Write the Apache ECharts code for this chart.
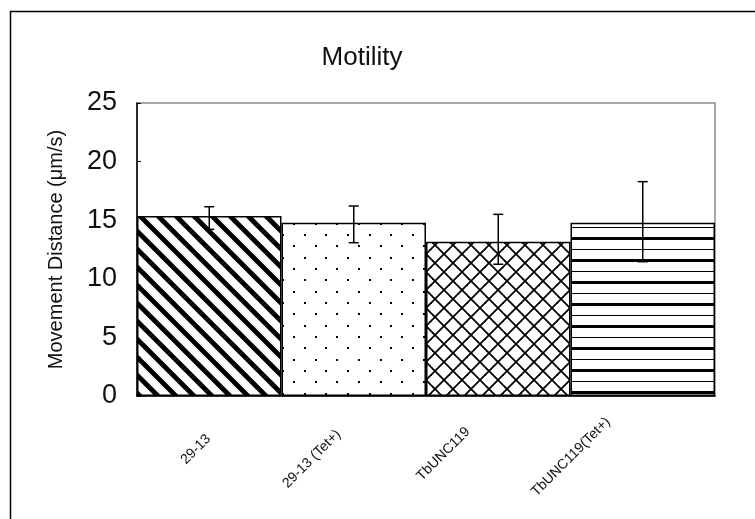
<!DOCTYPE html>
<html>
<head>
<meta charset="utf-8">
<script src="https://cdn.jsdelivr.net/npm/echarts@6/dist/echarts.min.js"></script>
<style>
html,body{margin:0;padding:0;background:#fff;}
#chart{width:755px;height:519px;}
</style>
</head>
<body>
<div id="chart"></div>
<script>
// ---- data ----
const categories = ['29-13', '29-13 (Tet+)', 'TbUNC119', 'TbUNC119(Tet+)'];
const means = [15.36, 14.79, 13.17, 14.79];
const errLow = [14.22, 13.08, 11.24, 11.46];
const errHigh = [16.15, 16.21, 15.50, 18.29];
const yTicks = [0, 5, 10, 15, 20, 25];

// ---- label placement tweaks (layout only) ----
const labelPad = [[0, 1, 0, 0], [0, 8, 27, 0], [0, 17, 52, 0], [0, 13, 72, 0]];

function mk(w, h) {
  const c = document.createElement('canvas');
  c.width = w; c.height = h;
  const g = c.getContext('2d');
  g.fillStyle = '#fff';
  g.fillRect(0, 0, w, h);
  return [c, g];
}
function diagPattern() {
  const [c, g] = mk(18, 18);
  g.strokeStyle = '#000'; g.lineWidth = 4.8;
  for (let o = -36; o <= 36; o += 18) {
    g.beginPath(); g.moveTo(-6, -2 + o); g.lineTo(24, 28 + o); g.stroke();
  }
  return c;
}
function dotPattern() {
  const [c, g] = mk(65, 68);
  g.fillStyle = '#000';
  for (let j = 0; j < 6; j++) {
    const y = 8.3 + j * 11.333;
    const x0 = 1.4 + (j % 2) * 10.833;
    for (let i = -1; i < 4; i++) {
      const x = x0 + i * 21.667;
      g.fillRect(Math.round(x) - 1, Math.round(y) - 1, 2, 2);
    }
  }
  return c;
}
function crossPattern() {
  const [c, g] = mk(18, 18);
  g.strokeStyle = '#000'; g.lineWidth = 1.8;
  for (let o = -36; o <= 36; o += 18) {
    g.beginPath(); g.moveTo(-6, 2 + o); g.lineTo(24, 32 + o); g.stroke();
    g.beginPath(); g.moveTo(-6, 20 + o); g.lineTo(24, -10 + o); g.stroke();
  }
  return c;
}
function hlinePattern() {
  const [c, g] = mk(4, 22);
  g.fillStyle = '#000';
  g.fillRect(0, 17, 4, 3);
  g.fillRect(0, 7, 4, 1);
  return c;
}
const patterns = [diagPattern(), dotPattern(), crossPattern(), hlinePattern()]
  .map(img => ({ image: img, repeat: 'repeat' }));

const labelFont = { fontFamily: 'Liberation Sans', fontSize: 14, color: '#111' };
const richStyles = {};
labelPad.forEach((p, i) => { richStyles['p' + i] = Object.assign({ padding: p }, labelFont); });

const chart = echarts.init(document.getElementById('chart'), null, { renderer: 'canvas' });
chart.setOption({
  animation: false,
  backgroundColor: '#fff',
  title: {
    text: 'Motility',
    left: 362, top: 45, textAlign: 'center', padding: 0,
    textStyle: { fontFamily: 'Liberation Sans', fontSize: 26, fontWeight: 'normal', color: '#111' }
  },
  graphic: [{
    type: 'rect', left: 8, top: 9, silent: true,
    shape: { x: 0, y: 0, width: 800, height: 600 },
    style: { fill: 'none', stroke: '#000', lineWidth: 1.5 }
  }],
  grid: {
    left: 137, top: 103, right: 40, bottom: 123,
    show: true, borderColor: '#8a8a8a', borderWidth: 1.5, backgroundColor: 'transparent',
    outerBoundsMode: 'none'
  },
  xAxis: {
    type: 'category',
    data: categories,
    boundaryGap: true,
    axisLine: { lineStyle: { color: '#000', width: 1.5 } },
    axisTick: { show: false },
    axisLabel: Object.assign({
      interval: 0, rotate: 45, margin: 40,
      formatter: function (v, i) { return '{p' + i + '|' + v + '}'; },
      rich: richStyles
    }, labelFont),
    splitLine: { show: false }
  },
  yAxis: {
    type: 'value', min: yTicks[0], max: yTicks[yTicks.length - 1], interval: 5,
    name: 'Movement Distance (μm/s)',
    nameLocation: 'middle', nameGap: 71,
    nameTextStyle: { fontFamily: 'Liberation Sans', fontSize: 20, color: '#111' },
    axisLine: { show: true, lineStyle: { color: '#000', width: 1.5 } },
    axisTick: { show: true, inside: true, length: 4, lineStyle: { color: '#000', width: 1 } },
    axisLabel: {
      margin: 20, padding: [8, 0, 0, 0],
      fontFamily: 'Liberation Sans', fontSize: 27, color: '#111'
    },
    splitLine: { show: false }
  },
  series: [{
    type: 'bar',
    barCategoryGap: '0%',
    data: means.map((v, i) => ({ value: v, itemStyle: { color: patterns[i] } })),
    itemStyle: { borderColor: '#000', borderWidth: 1.5 },
    z: 2
  }, {
    type: 'custom',
    data: categories.map((c, i) => [i, errLow[i], errHigh[i]]),
    encode: { x: 0, y: [1, 2] },
    z: 5,
    renderItem: function (params, api) {
      const i = api.value(0);
      const lo = api.coord([i, api.value(1)]);
      const hi = api.coord([i, api.value(2)]);
      const st = { stroke: '#000', lineWidth: 1.5 };
      const hw = 5;
      return {
        type: 'group',
        children: [
          { type: 'line', shape: { x1: lo[0], y1: lo[1], x2: hi[0], y2: hi[1] }, style: st },
          { type: 'line', shape: { x1: lo[0] - hw, y1: lo[1], x2: lo[0] + hw, y2: lo[1] }, style: st },
          { type: 'line', shape: { x1: hi[0] - hw, y1: hi[1], x2: hi[0] + hw, y2: hi[1] }, style: st }
        ]
      };
    }
  }]
});
</script>
</body>
</html>
